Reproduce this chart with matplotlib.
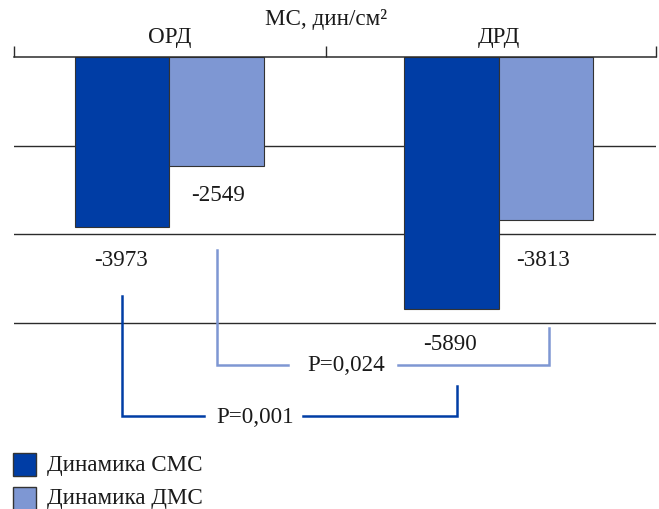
import matplotlib
matplotlib.use("Agg")
import matplotlib.pyplot as plt
import matplotlib.transforms as mtransforms
from matplotlib.patches import Rectangle

# ---------------- data ----------------
groups = ["ОРД", "ДРД"]
series_names = ["Динамика СМС", "Динамика ДМС"]
sms_values = [-3973, -5890]
dms_values = [-2549, -3813]
p_labels = ["P=0,001", "P=0,024"]
title_text = "МС, дин/см²"
grid_values = [-2070, -4140, -6200]

# ---------------- style ----------------
DARK = "#003DA5"
LIGHT = "#7E97D3"
LINE = "#2b2b2b"
FS = 16.6
plt.rcParams["font.family"] = ["Liberation Serif", "DejaVu Serif"]

W, H = 659, 509
fig = plt.figure(figsize=(W / 100, H / 100), dpi=100)

ax_left_px, ax_right_px, ax_top_px, ax_bot_px = 14, 656, 57.3, 440
ax = fig.add_axes([ax_left_px / W, 1 - ax_bot_px / H,
                   (ax_right_px - ax_left_px) / W, (ax_bot_px - ax_top_px) / H])

px_per_unit = 0.0428
ax.set_ylim(-(ax_bot_px - ax_top_px) / px_per_unit, 0)
xlim = (-0.4719, 1.4765)
ax.set_xlim(*xlim)

bw = 0.2868
x = list(range(len(groups)))
x_sms = [xi - bw / 2 for xi in x]
x_dms = [xi + bw / 2 for xi in x]

for gv in grid_values:
    ax.axhline(gv, color=LINE, lw=1.0, zorder=0)

ax.bar(x_sms, sms_values, bw, color=DARK, edgecolor="#333333", lw=0.8, zorder=2)
ax.bar(x_dms, dms_values, bw, color=LIGHT, edgecolor="#333333", lw=0.8, zorder=2)

# spines / ticks
for s in ["left", "right", "bottom"]:
    ax.spines[s].set_visible(False)
ax.spines["top"].set_color(LINE)
ax.spines["top"].set_linewidth(1.1)
ax.xaxis.tick_top()
mid = 0.474
ax.set_xticks([xlim[0], mid, xlim[1]])
ax.set_xticklabels([])
ax.tick_params(axis="x", direction="out", length=8.2, width=1.0, color=LINE)
ax.set_yticks([])

PT = 0.72  # points per pixel at 100 dpi

# group labels and title
for xi, g in zip(x, groups):
    ax.annotate(g, xy=(xi, 0), xytext=(0, 14.6 * PT), textcoords="offset points",
                ha="center", va="baseline", fontsize=FS, color="#1a1a1a")
ax.annotate(title_text, xy=(mid, 0), xytext=(0, 32.3 * PT), textcoords="offset points",
            ha="center", va="baseline", fontsize=FS, color="#1a1a1a")

# value labels below bars (gap in px from bar end to text baseline)
sms_gaps = [38.7, 40.6]
dms_gaps = [34.3, 45.5]
sms_dx = [-1, -2]
dms_dx = [1, -3]
for xs, v, gp, dx in zip(x_sms, sms_values, sms_gaps, sms_dx):
    ax.annotate(f"{v}", xy=(xs, v), xytext=(dx * PT, -gp * PT), textcoords="offset points",
                ha="center", va="baseline", fontsize=FS, color="#1a1a1a")
for xs, v, gp, dx in zip(x_dms, dms_values, dms_gaps, dms_dx):
    ax.annotate(f"{v}", xy=(xs, v), xytext=(dx * PT, -gp * PT), textcoords="offset points",
                ha="center", va="baseline", fontsize=FS, color="#1a1a1a")

# significance brackets (x in data, y in axes fraction)
trans = mtransforms.blended_transform_factory(ax.transData, ax.transAxes)
lw_b = 1.8

def bracket(x0, x1, y_left_top, y_right_top, y_h, gap0, gap1, color, label, lx, ly):
    ax.plot([x0, x0, gap0], [y_left_top, y_h, y_h], color=color, lw=lw_b,
            transform=trans, clip_on=False, solid_joinstyle="miter", zorder=3)
    ax.plot([gap1, x1, x1], [y_h, y_h, y_right_top], color=color, lw=lw_b,
            transform=trans, clip_on=False, solid_joinstyle="miter", zorder=3)
    ax.text(lx, ly, label, transform=trans, ha="center", va="baseline",
            fontsize=FS, color="#1a1a1a")

bracket(x_sms[0], x_sms[1] + 0.015, 0.3771, 0.1411, 0.0627, 0.1047, 0.4052,
        DARK, p_labels[0], 0.261, 0.0452)
bracket(x_dms[0], x_dms[1] + 0.009, 0.4965, 0.2922, 0.1955, 0.3596, 0.6935,
        LIGHT, p_labels[1], 0.5375, 0.1811)

# legend (manual)
sq = 23
rows_top = [453.3, 486.7]
baselines = [470.7, 504]
for name, col, top, base in zip(series_names, [DARK, LIGHT], rows_top, baselines):
    fig.add_artist(Rectangle((12.7 / W, 1 - (top + sq) / H), sq / W, sq / H,
                             transform=fig.transFigure, facecolor=col,
                             edgecolor="#333333", lw=1.0))
    fig.text(46.7 / W, 1 - base / H, name, ha="left", va="baseline",
             fontsize=FS, color="#1a1a1a")

fig.savefig("out.png", dpi=100)
